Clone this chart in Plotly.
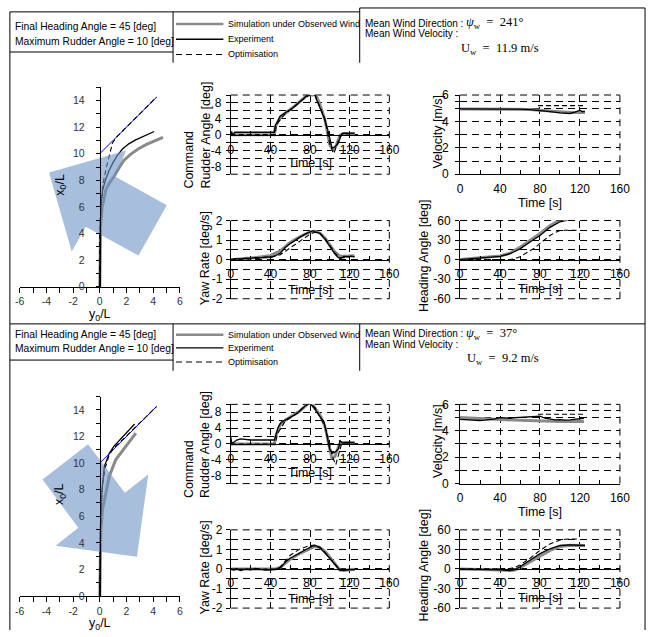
import plotly.graph_objects as go

W, H = 657, 637

# ======================= DATA =======================
# ---- Panel 1 : mean wind direction 241 deg, 11.9 m/s ----
p1_traj_exp_x = [0.0, 0.02, 0.05, 0.12, 0.22, 0.45, 0.71, 1.0, 1.32, 1.7, 2.17, 2.65, 3.15, 3.6, 4.07]
p1_traj_exp_y = [0.0, 3.0, 5.0, 6.5, 7.3, 8.1, 8.77, 9.35, 9.88, 10.35, 10.74, 11.02, 11.27, 11.48, 11.67]
p1_traj_sim_x = [0.0, 0.02, 0.06, 0.18, 0.46, 0.75, 1.07, 1.45, 1.8, 2.3, 2.9, 3.5, 4.1, 4.73]
p1_traj_sim_y = [0.0, 3.0, 4.5, 6.0, 7.3, 7.85, 8.29, 8.95, 9.5, 9.95, 10.37, 10.7, 10.97, 11.23]
p1_traj_opt_x = [0.0, 0.0, 0.08, 0.25, 0.5, 0.71, 0.95, 1.25, 4.25]
p1_traj_opt_y = [0.0, 4.0, 6.0, 7.8, 9.0, 9.9, 10.8, 11.25, 14.25]
p1_arrow_x = [-3.8, 1.98, 1.15, 5.02, 2.9, -1.05, -2.1, -3.8]
p1_arrow_y = [8.58, 10.24, 8.29, 6.13, 2.35, 4.5, 2.65, 8.58]

p1_rud_exp_t = [0, 1, 2, 4, 44, 45, 47, 50, 53, 56, 59, 62, 65, 68, 71, 74, 77, 78, 85, 86, 88, 91, 94, 97,
                99, 101, 102, 105, 108, 110, 112, 115, 120, 125]
p1_rud_exp = [0.0, 0.8, -0.2, 0.6, 0.6, 2.3, 3.2, 4.7, 5.2, 5.6, 6.2, 6.6, 7.3, 7.9, 8.5, 9.2, 10.0, 10.6,
              10.6, 9.2, 8.0, 6.4, 4.4, 2.0, 0.2, -2.0, -3.4, -3.1, -2.4, -1.0, 0.2, 0.4, 0.3, 0.4]
p1_rud_sim_t = [0, 44, 45, 50, 55, 60, 65, 70, 75, 79, 86, 90, 95, 100, 103, 106, 110, 113, 125]
p1_rud_sim = [0.0, 0.0, 2.0, 4.4, 5.4, 6.3, 7.3, 8.4, 9.5, 10.0, 10.0, 7.6, 3.8, -2.6, -3.8, -3.0, -0.4, 0.3, 0.3]
p1_rud_opt_t = [0, 45, 46, 55, 65, 75, 80, 85, 95, 100, 104, 106, 110, 113, 120]
p1_rud_opt = [0.0, 0.0, 2.5, 5.3, 7.2, 9.4, 10.0, 10.0, 4.0, -2.5, -4.8, -3.5, -0.5, 0.2, 0.2]

p1_yaw_exp_t = [0, 5, 10, 15, 20, 25, 30, 35, 40, 45, 50, 55, 60, 65, 70, 75, 80, 83, 86, 90, 95, 100, 105,
                108, 111, 114, 118, 122, 125]
p1_yaw_exp = [0.0, 0.05, 0.02, 0.08, 0.06, 0.1, 0.09, 0.14, 0.12, 0.2, 0.33, 0.62, 0.82, 1.0, 1.15, 1.3, 1.42,
              1.48, 1.4, 1.35, 1.05, 0.65, 0.3, 0.12, 0.05, 0.17, 0.15, 0.18, 0.13]
p1_yaw_sim_t = [0, 20, 40, 50, 60, 70, 80, 85, 90, 95, 100, 105, 110, 115, 125]
p1_yaw_sim = [0.0, 0.08, 0.2, 0.45, 0.88, 1.18, 1.42, 1.45, 1.35, 1.1, 0.75, 0.4, 0.18, 0.17, 0.2]
p1_yaw_opt_t = [0, 40, 50, 60, 70, 80, 85, 90, 95, 100, 105, 110, 115, 120]
p1_yaw_opt = [0.0, 0.1, 0.25, 0.6, 0.95, 1.3, 1.4, 1.35, 1.1, 0.7, 0.35, 0.1, 0.1, 0.15]

p1_vel_exp_t = [0, 20, 40, 60, 70, 80, 90, 100, 110, 115, 120, 122, 125]
p1_vel_exp = [4.95, 4.96, 4.95, 4.93, 4.9, 4.85, 4.75, 4.65, 4.6, 4.7, 4.85, 4.75, 4.75]
p1_vel_sim_t = [0, 20, 40, 60, 70, 80, 90, 100, 110, 115, 120, 122, 125]
p1_vel_sim = [4.95, 4.95, 4.94, 4.92, 4.9, 4.85, 4.78, 4.7, 4.68, 4.68, 4.7, 4.7, 4.68]
p1_vel_opt_t = [78, 124]
p1_vel_opt = [5.2, 5.2]

p1_hdg_exp_t = [0, 20, 40, 50, 60, 70, 80, 90, 100, 110, 120, 125]
p1_hdg_exp = [0, 2.5, 5, 9, 16.5, 27, 37, 49.5, 58, 61.5, 62.5, 63]
p1_hdg_sim_t = [0, 20, 40, 50, 60, 70, 80, 90, 100, 110, 120, 125]
p1_hdg_sim = [0, 2.5, 5.5, 10, 19, 29.5, 40, 52, 61, 64, 66, 67]
p1_hdg_opt_t = [0, 50, 55, 60, 65, 70, 75, 80, 85, 90, 95, 100, 105, 110, 118]
p1_hdg_opt = [0, 0, 1.5, 4.5, 9, 13.5, 18, 25, 31, 37, 41.5, 44.5, 45, 45, 45]

# ---- Panel 2 : mean wind direction 37 deg, 9.2 m/s ----
p2_traj_exp_x = [0.0, 0.02, 0.05, 0.1, 0.17, 0.34, 0.71, 1.05, 1.44, 2.0, 2.61]
p2_traj_exp_y = [0.0, 3.0, 5.0, 6.5, 8.03, 9.75, 10.73, 11.25, 11.67, 12.3, 12.94]
p2_traj_sim_x = [0.0, 0.02, 0.08, 0.2, 0.46, 0.71, 1.19, 1.93, 2.7]
p2_traj_sim_y = [0.0, 3.0, 5.0, 6.5, 7.78, 9.01, 10.24, 11.22, 12.25]
p2_traj_opt_x = [0.0, 0.02, 0.08, 0.2, 0.4, 0.7, 1.1, 1.5, 4.25]
p2_traj_opt_y = [0.0, 4.0, 6.5, 8.3, 9.6, 10.6, 11.2, 11.55, 14.25]
p2_arrow_x = [-0.88, 1.88, 3.63, 2.78, -3.31, -1.61, -4.29, -0.88]
p2_arrow_y = [11.42, 7.76, 9.14, 2.95, 3.78, 5.13, 8.77, 11.42]

p2_rud_exp_t = [0, 1, 3, 6, 10, 15, 20, 44, 46, 48, 51, 54, 57, 60, 64, 67, 70, 73, 76, 79, 80, 82, 85, 88,
                91, 94, 96, 98, 100, 103, 106, 109, 110, 111, 113, 116, 120, 125]
p2_rud_exp = [1.8, 0.2, 0.4, 1.0, 1.3, 1.2, 1.0, 1.0, 2.6, 4.3, 5.5, 5.9, 6.4, 6.8, 7.3, 7.7, 8.4, 9.0, 9.8,
              10.7, 10.5, 9.7, 8.8, 7.6, 6.6, 5.6, 3.5, 1.0, -1.5, -2.3, -1.9, -1.1, 1.0, 0.6, 0.2, 0.4, 0.3, 0.3]
p2_rud_sim_t = [0, 44, 46, 50, 55, 60, 65, 70, 75, 79, 82, 86, 90, 95, 100, 102, 105, 109, 112, 125]
p2_rud_sim = [0.0, 0.0, 2.4, 5.0, 6.0, 6.8, 7.5, 8.4, 9.5, 10.4, 10.0, 8.8, 7.4, 4.5, -1.5, -3.5, -3.2, -0.5,
              0.4, 0.4]
p2_rud_opt_t = [0, 45, 47, 55, 65, 75, 80, 85, 95, 100, 103, 106, 109, 112, 120]
p2_rud_opt = [0.0, 0.0, 2.5, 5.8, 7.4, 9.6, 10.2, 9.2, 4.5, -1.0, -3.5, -5.2, -2.5, 0.2, 0.2]

p2_yaw_exp_t = [0, 3, 6, 10, 15, 20, 25, 30, 35, 40, 45, 50, 53, 56, 60, 65, 70, 75, 80, 84, 87, 90, 95,
                100, 105, 110, 114, 118, 122, 125]
p2_yaw_exp = [0.0, -0.05, 0.02, -0.08, 0.0, -0.04, 0.03, -0.02, -0.06, -0.05, -0.02, 0.05, 0.25, 0.4, 0.55,
              0.7, 0.85, 0.97, 1.1, 1.2, 1.17, 1.08, 0.82, 0.55, 0.25, -0.05, -0.08, -0.05, -0.02, -0.03]
p2_yaw_sim_t = [0, 45, 50, 55, 60, 70, 80, 85, 90, 95, 100, 105, 110, 115, 125]
p2_yaw_sim = [0.0, 0.0, 0.08, 0.3, 0.5, 0.8, 1.05, 1.15, 1.1, 0.9, 0.6, 0.25, -0.05, -0.06, -0.02]
p2_yaw_opt_t = [0, 45, 50, 55, 60, 70, 80, 86, 90, 95, 100, 105, 110, 115, 120]
p2_yaw_opt = [0.0, 0.0, 0.1, 0.4, 0.7, 1.03, 1.2, 1.23, 1.1, 0.85, 0.55, 0.2, -0.05, -0.05, -0.02]

p2_vel_exp_t = [0, 5, 10, 15, 20, 25, 30, 35, 40, 45, 50, 55, 60, 65, 70, 75, 80, 85, 90, 95, 100, 105, 110,
                115, 120, 124]
p2_vel_exp = [4.86, 4.84, 4.8, 4.82, 4.78, 4.8, 4.84, 4.9, 5.0, 4.98, 4.95, 5.0, 5.02, 5.0, 5.05, 5.05, 5.1,
              4.95, 4.86, 4.82, 4.85, 4.8, 4.82, 4.88, 4.9, 4.95]
p2_vel_sim_t = [0, 20, 40, 60, 80, 100, 124]
p2_vel_sim = [5.0, 4.9, 4.85, 4.8, 4.75, 4.7, 4.7]
p2_vel_opt_t = [78, 124]
p2_vel_opt = [5.25, 5.25]

p2_hdg_exp_t = [0, 20, 40, 50, 55, 60, 70, 80, 90, 100, 110, 120, 125]
p2_hdg_exp = [0, -0.5, -1.5, -2.5, -1, 3.5, 13.5, 23.5, 31, 36, 37, 36.5, 36]
p2_hdg_sim_t = [0, 20, 40, 50, 55, 60, 70, 80, 90, 100, 110, 120, 125]
p2_hdg_sim = [0, -0.5, -1.5, -2.5, -1.5, 2, 11, 20, 28.5, 34.5, 36.5, 36, 36]
p2_hdg_opt_t = [0, 45, 50, 55, 60, 70, 80, 90, 100, 108, 118]
p2_hdg_opt = [0, 0, 0.5, 2.5, 6, 16.5, 28.5, 38.5, 44.5, 46, 46]

# target course line (final heading 45 deg)
target_x = [0.0, 4.25]
target_y = [10.0, 14.25]

# texts
header_left = ["Final Heading Angle = 45 [deg]", "Maximum Rudder Angle = 10 [deg]"]
legend_names = ["Simulation under Observed Wind", "Experiment", "Optimisation"]
wind_dir = ["241°", "37°"]
wind_vel = ["11.9", "9.2"]

# axis ticks
traj_xticks = [-6, -4, -2, 0, 2, 4, 6]
traj_yticks = [0, 2, 4, 6, 8, 10, 12, 14]
time_ticks = [0, 40, 80, 120, 160]
rud_ticks = [-8, -4, 0, 4, 8]
yaw_ticks = [-2, -1, 0, 1, 2]
vel_ticks = [0, 2, 4, 6]
hdg_ticks = [-60, -30, 0, 30, 60]

# ======================= STYLE =======================
SANS = "Liberation Sans, Arial, sans-serif"
SERIF = "Liberation Serif, Times New Roman, serif"
GRAY = "#8a8a8a"
GRID = "7px,5px"


def fx(px):
    return px / W


def fy(py):
    return 1 - py / H


fig = go.Figure()
layout = dict(
    width=W, height=H, margin=dict(l=0, r=0, t=0, b=0),
    paper_bgcolor="white", plot_bgcolor="rgba(0,0,0,0)",
    showlegend=False, font=dict(family=SANS, size=12, color="black"),
)
shapes = []
annotations = []


def ann(text, px, py, size, xanchor="center", yanchor="middle", angle=0, family=SANS, align="center",
        color="black"):
    annotations.append(dict(text=text, x=fx(px), y=fy(py), xref="paper", yref="paper", showarrow=False,
                            xanchor=xanchor, yanchor=yanchor, textangle=angle, align=align, borderpad=0,
                            font=dict(family=family, size=size, color=color)))


def hline(x0, x1, y, dash=None, color="black", width=1):
    ln = dict(color=color, width=width)
    if dash:
        ln["dash"] = dash
    shapes.append(dict(type="line", xref="paper", yref="paper", x0=fx(x0), x1=fx(x1), y0=fy(y), y1=fy(y), line=ln))


def vline(x, y0, y1, width=1):
    shapes.append(dict(type="line", xref="paper", yref="paper", x0=fx(x), x1=fx(x), y0=fy(y0), y1=fy(y1),
                       line=dict(color="black", width=width)))


def key(a, n):
    return a + "axis" + ("" if n == 1 else str(n))


def ref(a, n):
    return a if n == 1 else f"{a}{n}"


def add(xs, ys, n, kind):
    if kind == "sim":
        line = dict(color=GRAY, width=3)
    elif kind == "exp":
        line = dict(color="black", width=1.3)
    elif kind == "opt":
        line = dict(color="black", width=1.1, dash="5px,3px")
    else:
        line = dict(color="blue", width=1)
    fig.add_trace(go.Scatter(x=xs, y=ys, mode="lines", line=line, xaxis=ref("x", n), yaxis=ref("y", n),
                             hoverinfo="skip"))


def txt(vals):
    return [str(v) for v in vals]


def frame_dash(n, bottom):
    xr, yr = ref("x", n) + " domain", ref("y", n) + " domain"
    ln = dict(color="black", width=1, dash=GRID)
    shapes.append(dict(type="line", xref=xr, yref=yr, x0=0, x1=1, y0=1, y1=1, line=ln, layer="below"))
    shapes.append(dict(type="line", xref=xr, yref=yr, x0=1, x1=1, y0=0, y1=1, line=ln, layer="below"))
    if bottom:
        shapes.append(dict(type="line", xref=xr, yref=yr, x0=0, x1=1, y0=0, y1=0, line=ln, layer="below"))


def small_axes(n, xd, yd, yr, yticks, yminor, zero_py, bottom_anchor, ystand):
    xa = dict(domain=[fx(xd[0]), fx(xd[1])], range=[0, 160], showline=True, linecolor="black", linewidth=1,
              ticks="inside", ticklen=4, tickcolor="black", tickvals=time_ticks, ticktext=txt(time_ticks),
              ticklabelstandoff=3, tickfont=dict(size=12, color="black"),
              minor=dict(tickvals=[20, 60, 100, 140], ticks="inside", ticklen=4, tickcolor="black"),
              showgrid=True, gridcolor="black", gridwidth=1, griddash=GRID, zeroline=False)
    if bottom_anchor:
        xa["anchor"] = ref("y", n)
    else:
        xa["anchor"] = "free"
        xa["position"] = fy(zero_py)
    ya = dict(domain=[fy(yd[0]), fy(yd[1])], range=yr, anchor=ref("x", n), showline=True, linecolor="black",
              linewidth=1, ticks="outside", ticklen=4, tickcolor="black", tickvals=yticks, ticktext=txt(yticks),
              ticklabelstandoff=ystand, tickfont=dict(size=12, color="black"),
              minor=dict(tickvals=yminor, ticks="outside", ticklen=4, tickcolor="black", showgrid=True,
                         gridcolor="black", gridwidth=1, griddash=GRID),
              showgrid=True, gridcolor="black", gridwidth=1, griddash=GRID, zeroline=False)
    layout[key("x", n)] = xa
    layout[key("y", n)] = ya
    frame_dash(n, yr[0] < 0)


panels = [
    dict(dy=0.0,
         traj=(p1_traj_sim_x, p1_traj_sim_y, p1_traj_exp_x, p1_traj_exp_y, p1_traj_opt_x, p1_traj_opt_y,
               p1_arrow_x, p1_arrow_y),
         rud=(p1_rud_sim_t, p1_rud_sim, p1_rud_exp_t, p1_rud_exp, p1_rud_opt_t, p1_rud_opt),
         yaw=(p1_yaw_sim_t, p1_yaw_sim, p1_yaw_exp_t, p1_yaw_exp, p1_yaw_opt_t, p1_yaw_opt),
         vel=(p1_vel_sim_t, p1_vel_sim, p1_vel_exp_t, p1_vel_exp, p1_vel_opt_t, p1_vel_opt),
         hdg=(p1_hdg_sim_t, p1_hdg_sim, p1_hdg_exp_t, p1_hdg_exp, p1_hdg_opt_t, p1_hdg_opt)),
    dict(dy=316.3,
         traj=(p2_traj_sim_x, p2_traj_sim_y, p2_traj_exp_x, p2_traj_exp_y, p2_traj_opt_x, p2_traj_opt_y,
               p2_arrow_x, p2_arrow_y),
         rud=(p2_rud_sim_t, p2_rud_sim, p2_rud_exp_t, p2_rud_exp, p2_rud_opt_t, p2_rud_opt),
         yaw=(p2_yaw_sim_t, p2_yaw_sim, p2_yaw_exp_t, p2_yaw_exp, p2_yaw_opt_t, p2_yaw_opt),
         vel=(p2_vel_sim_t, p2_vel_sim, p2_vel_exp_t, p2_vel_exp, p2_vel_opt_t, p2_vel_opt),
         hdg=(p2_hdg_sim_t, p2_hdg_sim, p2_hdg_exp_t, p2_hdg_exp, p2_hdg_opt_t, p2_hdg_opt)),
]

for p, P in enumerate(panels):
    dy = P["dy"]
    base = p * 5
    # ---------- trajectory ----------
    n = base + 1
    sx, sy, ex, ey, ox, oy, ax_, ay_ = P["traj"]
    add(sx, sy, n, "sim")
    add(ex, ey, n, "exp")
    add(target_x, target_y, n, "target")
    add(ox, oy, n, "opt")
    fig.add_trace(go.Scatter(x=ax_, y=ay_, mode="lines", fill="toself", fillcolor="rgba(108,148,198,0.6)",
                             line=dict(width=0, color="rgba(0,0,0,0)"), xaxis=ref("x", n), yaxis=ref("y", n),
                             hoverinfo="skip"))
    layout[key("x", n)] = dict(domain=[fx(15), fx(179)], range=[-6, 6], anchor=ref("y", n), showline=True,
                               linecolor="black", linewidth=1, ticks="outside", ticklen=5, tickcolor="black",
                               tickvals=traj_xticks, ticktext=txt(traj_xticks),
                               tickfont=dict(size=10.5, color="#333"),
                               minor=dict(tickvals=[-5, -3, -1, 1, 3, 5], ticks="outside", ticklen=5,
                                          tickcolor="black"),
                               showgrid=False, zeroline=False)
    layout[key("y", n)] = dict(domain=[fy(286 + dy), fy(82 + dy)], range=[0, 15], anchor="free",
                               position=fx(97), showline=True, linecolor="black", linewidth=1, ticks="outside",
                               ticklen=4, tickcolor="black", tickvals=traj_yticks, ticktext=txt(traj_yticks),
                               ticklabelstandoff=9, tickfont=dict(size=10.5, color="#333"),
                               minor=dict(tickvals=[1, 3, 5, 7, 9, 11, 13, 15], ticks="outside", ticklen=4,
                                          tickcolor="black"),
                               showgrid=False, zeroline=False)
    ann("x<sub>0</sub>/L", 57, 182 + dy, 12.5, angle=-90)
    ann("y<sub>0</sub>/L", 97, 315 + dy, 12.5)

    # ---------- rudder ----------
    n = base + 2
    st, sv, et, ev, ot, ov = P["rud"]
    add(st, sv, n, "sim"); add(et, ev, n, "exp"); add(ot, ov, n, "opt")
    small_axes(n, (231, 393.3), (171 + dy, 90 + dy), [-10, 10], rud_ticks, [-10, -6, -2, 2, 6, 10], 131 + dy,
               False, 2)
    ann("Command<br>Rudder Angle [deg]", 197, 131 + dy, 12.5, angle=-90, align="left")
    ann("Time [s]", 312, 160 + dy, 12.5)

    # ---------- yaw rate ----------
    n = base + 3
    st, sv, et, ev, ot, ov = P["yaw"]
    add(st, sv, n, "sim"); add(et, ev, n, "exp"); add(ot, ov, n, "opt")
    small_axes(n, (231, 393.3), (298.3 + dy, 218.3 + dy), [-2, 2], yaw_ticks, [-1.5, -0.5, 0.5, 1.5],
               258.3 + dy, False, 1)
    ann("Yaw Rate [deg/s]", 205, 256.5 + dy, 12.5, angle=-90)
    ann("Time [s]", 312, 289 + dy, 12.5)

    # ---------- velocity ----------
    n = base + 4
    st, sv, et, ev, ot, ov = P["vel"]
    add(st, sv, n, "sim"); add(et, ev, n, "exp"); add(ot, ov, n, "opt")
    small_axes(n, (465.7, 629.3), (171 + dy, 90 + dy), [0, 6], vel_ticks, [1, 3, 5, 5.5], 171 + dy, True, 4)
    ann("Velocity [m/s]", 443, 127.5 + dy, 12.5, angle=-90)
    ann("Time [s]", 547.5, 200 + dy, 12.5)

    # ---------- heading ----------
    n = base + 5
    st, sv, et, ev, ot, ov = P["hdg"]
    add(st, sv, n, "sim"); add(et, ev, n, "exp"); add(ot, ov, n, "opt")
    small_axes(n, (465.7, 629.3), (298.3 + dy, 218.3 + dy), [-60, 60], hdg_ticks, [-45, -15, 15, 45],
               258.3 + dy, False, 2)
    ann("Heading Angle [deg]", 429, 254.5 + dy, 12.5, angle=-90)
    ann("Time [s]", 547.5, 288 + dy, 12.5)

# ======================= HEADERS / FRAME =======================
hdr = [
    dict(top=5, rtop=1, lb=46, vb=57, l1=20, l2=35, g=(17.5, 33, 48.5), w=(16.5, 27.5, 43)),
    dict(top=324, rtop=324, lb=361, vb=372, l1=335, l2=349, g=(335, 348.5, 363), w=(334, 345, 360)),
]
for i, h in enumerate(hdr):
    hline(5, 363, h["top"])
    hline(363, 655, h["rtop"])
    hline(5, 172, h["lb"])
    vline(172, h["top"], h["vb"])
    vline(363, h["rtop"], h["vb"])
    ann(header_left[0], 9, h["l1"], 10.3, xanchor="left")
    ann(header_left[1], 9, h["l2"], 10.3, xanchor="left")
    hline(175, 223.5, h["g"][0], color=GRAY, width=2.5)
    hline(175, 223.5, h["g"][1], color="black", width=1.3)
    hline(175, 223.5, h["g"][2], dash="6px,4px", color="black", width=1.1)
    for k in range(3):
        ann(legend_names[k], 227.5, h["g"][k], 9.0, xanchor="left")
    ann("Mean Wind Direction :", 367, h["w"][0], 10, xanchor="left")
    ann("<i>ψ</i><sub>w</sub>  =  " + wind_dir[i], 471, h["w"][0], 12.5, xanchor="left", family=SERIF)
    ann("Mean Wind Velocity :", 367, h["w"][1], 10, xanchor="left")
    ann("U<sub>w</sub>  =  " + wind_vel[i] + " m/s", 548, h["w"][2], 12.5, xanchor="right", family=SERIF)

vline(5, 5, 637)
vline(655, 1, 637)

layout["shapes"] = shapes
layout["annotations"] = annotations
fig.update_layout(**layout)
fig.write_html("out.html")
